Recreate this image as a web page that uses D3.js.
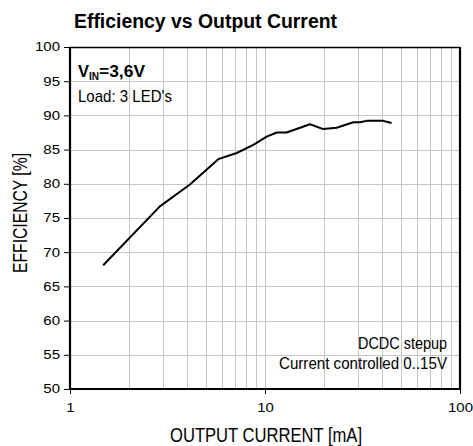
<!DOCTYPE html>
<html>
<head>
<meta charset="utf-8">
<script src="https://cdn.jsdelivr.net/npm/d3@7"></script>
<style>
  html, body { margin: 0; padding: 0; background: #fff; }
  svg { display: block; }
</style>
</head>
<body>
<svg id="chart" width="473" height="446"></svg>
<script>
// Measured efficiency of the LED driver vs output current
const currentMA = [1.48, 2.89, 4.12, 5.76, 7.16, 8.71, 10.2, 11.5, 12.9, 17.0, 19.9, 23.3, 28.4, 30.7, 33.2, 40.4, 44.6];
const efficiency = [68.1, 76.7, 79.9, 83.6, 84.5, 85.7, 86.9, 87.5, 87.5, 88.7, 88.0, 88.2, 89.0, 89.0, 89.2, 89.2, 88.9];
const xTickValues = [1, 10, 100];
const yTickValues = [50, 55, 60, 65, 70, 75, 80, 85, 90, 95, 100];

const svg = d3.select("#chart");
const W = 473, H = 446;
const x0 = 70, x1 = 460, y0 = 389, y1 = 47;

const x = d3.scaleLog().domain([1, 100]).range([x0, x1]);
const y = d3.scaleLinear().domain([50, 100]).range([y0, y1]);

const font = "'Liberation Sans', Arial, sans-serif";

// Condensed look: squeeze a text to a given width
function squeeze(sel, width) {
  sel.attr("textLength", width).attr("lengthAdjust", "spacingAndGlyphs");
  return sel;
}

// Grid lines: every log minor step on x, every 5 % on y
const minorX = [];
for (let dec = 1; dec < 100; dec *= 10) {
  for (let m = 2; m <= 10; m++) minorX.push(dec * m);
}
const grid = svg.append("g").attr("stroke", "#c6c6c6").attr("stroke-width", 1);
grid.selectAll("line.vx").data(minorX.filter(v => v < 100)).join("line")
  .attr("x1", d => Math.round(x(d)) + 0.5).attr("x2", d => Math.round(x(d)) + 0.5)
  .attr("y1", y1).attr("y2", y0);
grid.selectAll("line.hy").data(yTickValues.filter(v => v > 50 && v < 100)).join("line")
  .attr("y1", d => Math.round(y(d)) + 0.5).attr("y2", d => Math.round(y(d)) + 0.5)
  .attr("x1", x0).attr("x2", x1);

// Axes
const yAxis = svg.append("g").attr("transform", `translate(${x0},0)`)
  .call(d3.axisLeft(y).tickValues(yTickValues).tickSize(6).tickPadding(2));
const xAxis = svg.append("g").attr("transform", `translate(0,${y0})`)
  .call(d3.axisBottom(x).tickValues(xTickValues).tickFormat(d3.format("d")).tickSize(5).tickPadding(9));
[yAxis, xAxis].forEach(g => {
  g.select(".domain").remove();
  g.selectAll(".tick line").attr("stroke", "#000").attr("stroke-width", 1);
  g.selectAll(".tick text").attr("font-family", font).attr("font-size", 12).attr("fill", "#000")
    .attr("transform", "scale(1.25,1)");
});

// Plot frame (heavier on the left, right and bottom)
const frame = svg.append("g").attr("stroke", "#000");
frame.append("line").attr("x1", x0).attr("x2", x1).attr("y1", y1 + 0.5).attr("y2", y1 + 0.5).attr("stroke-width", 1.5);
frame.append("line").attr("x1", x0).attr("x2", x0).attr("y1", y1).attr("y2", y0 + 1).attr("stroke-width", 2.2);
frame.append("line").attr("x1", x1).attr("x2", x1).attr("y1", y1).attr("y2", y0 + 1).attr("stroke-width", 2.2);
frame.append("line").attr("x1", x0 - 1).attr("x2", x1 + 1).attr("y1", y0).attr("y2", y0).attr("stroke-width", 2.2);

// Efficiency curve
const line = d3.line().x(d => x(d[0])).y(d => y(d[1]));
svg.append("path")
  .datum(currentMA.map((c, i) => [c, efficiency[i]]))
  .attr("d", line)
  .attr("fill", "none").attr("stroke", "#000").attr("stroke-width", 2)
  .attr("stroke-linejoin", "round");

// Title and axis labels
squeeze(svg.append("text").attr("x", 74).attr("y", 28)
  .attr("font-family", font).attr("font-weight", "bold").attr("font-size", 20)
  .text("Efficiency vs Output Current"), 263);
squeeze(svg.append("text").attr("x", 170).attr("y", 442)
  .attr("font-family", font).attr("font-size", 20)
  .text("OUTPUT CURRENT [mA]"), 192);
squeeze(svg.append("text").attr("transform", "translate(27,273) rotate(-90)")
  .attr("font-family", font).attr("font-size", 20)
  .text("EFFICIENCY [%]"), 120);

// Operating conditions
const vin = svg.append("text").attr("x", 78).attr("y", 77)
  .attr("font-family", font).attr("font-weight", "bold").attr("font-size", 17);
squeeze(vin.append("tspan").text("V"), 11);
squeeze(vin.append("tspan").attr("font-size", 11).attr("dy", 3).text("IN"), 10);
squeeze(vin.append("tspan").attr("dy", -3).text("=3,6V"), 46);
squeeze(svg.append("text").attr("x", 78).attr("y", 102)
  .attr("font-family", font).attr("font-size", 17)
  .text("Load: 3 LED's"), 94);
squeeze(svg.append("text").attr("x", 358).attr("y", 349)
  .attr("font-family", font).attr("font-size", 17)
  .text("DCDC stepup"), 89);
squeeze(svg.append("text").attr("x", 279).attr("y", 369)
  .attr("font-family", font).attr("font-size", 17)
  .text("Current controlled 0..15V"), 168);
</script>
</body>
</html>
